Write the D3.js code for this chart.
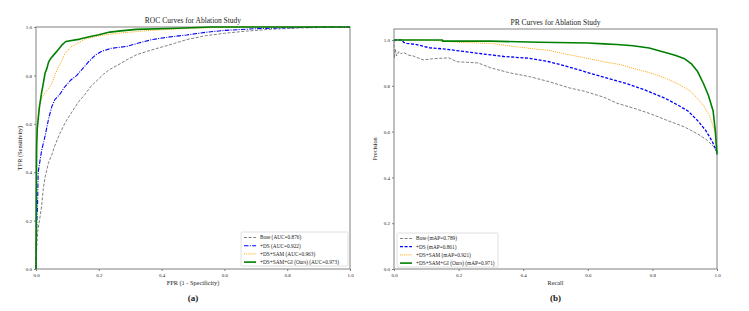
<!DOCTYPE html>
<html>
<head>
<meta charset="utf-8">
<script src="https://cdn.jsdelivr.net/npm/d3@7"></script>
<style>
  body { margin: 0; background: #fff; }
  text { font-family: "Liberation Serif", "DejaVu Serif", serif; fill: #222; }
</style>
</head>
<body>
<svg id="chart" width="749" height="311"></svg>
<script>
// tick labels
var tickLabels = ["0.0", "0.2", "0.4", "0.6", "0.8", "1.0"];

// legend names
var rocNames = ["Base (AUC=0.876)", "+DS (AUC=0.922)", "+DS+SAM (AUC=0.963)", "+DS+SAM+GI (Ours) (AUC=0.973)"];
var prNames = ["Base (mAP=0.789)", "+DS (mAP=0.861)", "+DS+SAM (mAP=0.921)", "+DS+SAM+GI (Ours) (mAP=0.971)"];

// ROC curves, [fpr, tpr]
var rocBase = [[0,0],[0.002,0.08],[0.005,0.15],[0.011,0.2],[0.018,0.26],[0.023,0.33],[0.029,0.38],[0.04,0.44],[0.05,0.47],[0.06,0.51],[0.076,0.56],[0.095,0.61],[0.115,0.65],[0.135,0.69],[0.155,0.72],[0.175,0.755],[0.195,0.78],[0.215,0.805],[0.235,0.825],[0.26,0.842],[0.29,0.865],[0.32,0.885],[0.355,0.9],[0.395,0.915],[0.44,0.932],[0.48,0.948],[0.54,0.964],[0.6,0.974],[0.67,0.983],[0.74,0.99],[0.84,0.996],[0.95,0.999],[1,1]];
var rocDS = [[0,0],[0.001,0.1],[0.003,0.2],[0.005,0.27],[0.007,0.4],[0.013,0.45],[0.018,0.49],[0.029,0.55],[0.04,0.62],[0.05,0.67],[0.06,0.7],[0.075,0.72],[0.09,0.75],[0.11,0.78],[0.13,0.8],[0.15,0.83],[0.17,0.86],[0.19,0.885],[0.21,0.9],[0.24,0.912],[0.29,0.92],[0.33,0.935],[0.37,0.948],[0.42,0.958],[0.48,0.967],[0.54,0.978],[0.6,0.986],[0.7,0.993],[0.8,0.997],[0.9,0.999],[0.95,1],[1,1]];
var rocSAM = [[0,0],[0.001,0.3],[0.002,0.53],[0.005,0.6],[0.008,0.66],[0.013,0.69],[0.02,0.71],[0.03,0.73],[0.04,0.745],[0.05,0.765],[0.06,0.8],[0.07,0.83],[0.082,0.86],[0.092,0.89],[0.11,0.917],[0.14,0.938],[0.16,0.952],[0.21,0.966],[0.26,0.974],[0.33,0.982],[0.39,0.988],[0.5,0.995],[0.63,1],[1,1]];
var rocGI = [[0,0],[0.001,0.3],[0.002,0.5],[0.004,0.58],[0.007,0.62],[0.011,0.67],[0.018,0.73],[0.023,0.765],[0.029,0.81],[0.035,0.83],[0.04,0.855],[0.047,0.87],[0.06,0.89],[0.07,0.905],[0.082,0.925],[0.095,0.94],[0.14,0.95],[0.17,0.96],[0.2,0.968],[0.235,0.979],[0.27,0.984],[0.32,0.99],[0.45,0.995],[0.56,1],[1,1]];

// PR curves, [recall, precision]
var prBase = [[0,1],[0.001,0.92],[0.004,0.96],[0.008,0.93],[0.015,0.95],[0.022,0.94],[0.03,0.945],[0.045,0.934],[0.06,0.93],[0.09,0.913],[0.12,0.918],[0.17,0.922],[0.195,0.905],[0.26,0.9],[0.3,0.878],[0.36,0.856],[0.42,0.84],[0.48,0.818],[0.545,0.79],[0.59,0.776],[0.65,0.75],[0.69,0.724],[0.74,0.703],[0.79,0.68],[0.84,0.652],[0.9,0.62],[0.94,0.59],[0.97,0.562],[0.99,0.534],[1,0.51]];
var prDS = [[0,1],[0.025,1],[0.03,0.99],[0.04,0.985],[0.07,0.98],[0.11,0.966],[0.16,0.96],[0.215,0.95],[0.27,0.94],[0.34,0.928],[0.42,0.92],[0.48,0.905],[0.535,0.885],[0.6,0.858],[0.66,0.833],[0.72,0.81],[0.78,0.78],[0.84,0.745],[0.88,0.715],[0.91,0.69],[0.94,0.648],[0.965,0.605],[0.985,0.558],[1,0.51]];
var prSAM = [[0,1],[0.1,1],[0.15,0.995],[0.2,0.99],[0.3,0.985],[0.37,0.972],[0.44,0.96],[0.48,0.955],[0.52,0.942],[0.58,0.925],[0.66,0.902],[0.7,0.893],[0.74,0.876],[0.79,0.858],[0.84,0.834],[0.88,0.808],[0.92,0.775],[0.958,0.714],[0.978,0.665],[0.994,0.596],[1,0.51]];
var prGI = [[0,1],[0.15,1],[0.15,0.995],[0.3,0.995],[0.45,0.99],[0.55,0.988],[0.6,0.987],[0.65,0.983],[0.69,0.98],[0.74,0.975],[0.79,0.965],[0.84,0.945],[0.87,0.933],[0.9,0.918],[0.92,0.897],[0.94,0.862],[0.958,0.81],[0.973,0.76],[0.988,0.69],[0.995,0.6],[1,0.5]];

// line styles per series (base, ds, sam, gi)
var rocStyles = [
  {color: "#808080", dash: "3,1.6", w: 1},
  {color: "#0000ff", dash: "4.5,1.3,1,1.3", w: 1.1},
  {color: "#ffa500", dash: "1,1.1", w: 1},
  {color: "#008000", dash: null, w: 1.6}
];
var prStyles = [
  {color: "#808080", dash: "3,1.6", w: 1},
  {color: "#0000ff", dash: "3,1.6", w: 1.3},
  {color: "#ffa500", dash: "1,1.1", w: 1},
  {color: "#008000", dash: null, w: 1.6}
];

var svg = d3.select("#chart");

function panel(opt) {
  var g = svg.append("g");
  var x = d3.scaleLinear().domain([0, 1]).range([opt.left, opt.right]);
  var y = d3.scaleLinear().domain([0, opt.ymax]).range([opt.bottom, opt.top]);

  // frame
  g.append("rect")
    .attr("x", opt.left).attr("y", opt.top)
    .attr("width", opt.right - opt.left).attr("height", opt.bottom - opt.top)
    .attr("fill", "none").attr("stroke", "#808080").attr("stroke-width", 1);

  // axes
  var xAxis = d3.axisBottom(x).tickValues([0, 0.2, 0.4, 0.6, 0.8, 1])
    .tickFormat(function(d, i) { return tickLabels[i]; }).tickSize(2).tickPadding(2);
  var yAxis = d3.axisLeft(y).tickValues([0, 0.2, 0.4, 0.6, 0.8, 1])
    .tickFormat(function(d, i) { return tickLabels[i]; }).tickSize(2).tickPadding(2);
  g.append("g").attr("transform", "translate(0," + opt.bottom + ")").call(xAxis);
  g.append("g").attr("transform", "translate(" + opt.left + ",0)").call(yAxis);
  g.selectAll(".domain").remove();
  g.selectAll(".tick line").attr("stroke", "#808080");
  g.selectAll(".tick text").style("font-size", "5px").style("font-family", "Liberation Serif").attr("fill", "#333");

  // curves
  var line = d3.line().x(function(d) { return x(d[0]); }).y(function(d) { return y(d[1]); });
  opt.series.forEach(function(s, i) {
    var st = opt.styles[i];
    g.append("path").datum(s)
      .attr("d", line)
      .attr("fill", "none")
      .attr("stroke", st.color)
      .attr("stroke-width", st.w)
      .attr("stroke-dasharray", st.dash)
      .attr("stroke-linejoin", "round");
  });

  // titles and labels
  var cx = (opt.left + opt.right) / 2;
  g.append("text").attr("x", cx).attr("y", opt.top - 4).attr("text-anchor", "middle")
    .style("font-size", "7.5px").text(opt.title);
  g.append("text").attr("x", cx).attr("y", opt.bottom + 16).attr("text-anchor", "middle")
    .style("font-size", "6.3px").text(opt.xlabel);
  g.append("text").attr("transform", "translate(" + opt.ylabelX + "," + ((opt.top + opt.bottom) / 2) + ") rotate(-90)")
    .attr("text-anchor", "middle").style("font-size", "6.3px").text(opt.ylabel);
  g.append("text").attr("x", cx).attr("y", opt.bottom + 32).attr("text-anchor", "middle")
    .style("font-size", "9px").style("font-weight", "bold").attr("fill", "#000").text(opt.tag);

  // legend
  var lg = g.append("g").attr("transform", "translate(" + opt.legX + "," + opt.legY + ")");
  lg.append("rect").attr("width", opt.legW).attr("height", 34)
    .attr("fill", "#fff").attr("stroke", "#d8d8d8").attr("stroke-width", 0.8).attr("rx", 1);
  opt.names.forEach(function(n, i) {
    var st = opt.styles[i];
    var yy = 5.5 + i * 8.2;
    lg.append("line").attr("x1", 3).attr("x2", 15).attr("y1", yy).attr("y2", yy)
      .attr("stroke", st.color).attr("stroke-width", st.w).attr("stroke-dasharray", st.dash);
    lg.append("text").attr("x", 19).attr("y", yy + 1.8).style("font-size", "5.3px").text(n);
  });
}

panel({
  left: 36, right: 350, top: 27, bottom: 269, ymax: 1,
  series: [rocBase, rocDS, rocSAM, rocGI], styles: rocStyles, names: rocNames,
  title: "ROC Curves for Ablation Study", xlabel: "FPR (1 - Specificity)", ylabel: "TPR (Sensitivity)",
  ylabelX: 22, tag: "(a)", legX: 241, legY: 232, legW: 107
});

panel({
  left: 394, right: 717, top: 29, bottom: 269, ymax: 1.048,
  series: [prBase, prDS, prSAM, prGI], styles: prStyles, names: prNames,
  title: "PR Curves for Ablation Study", xlabel: "Recall", ylabel: "Precision",
  ylabelX: 377, tag: "(b)", legX: 397, legY: 233, legW: 101
});
</script>
</body>
</html>
